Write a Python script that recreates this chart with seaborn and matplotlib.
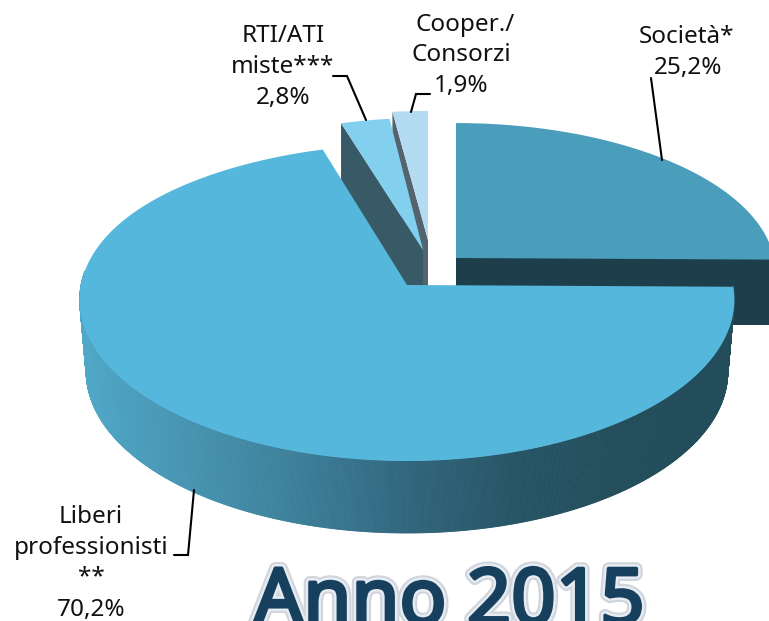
import numpy as np
import matplotlib
matplotlib.use("Agg")
import matplotlib.pyplot as plt
import matplotlib.patheffects as pe
from matplotlib.collections import PolyCollection
import seaborn as sns

# ---- data ----
categories = ["Società*", "Liberi professionisti**", "RTI/ATI miste***", "Cooper./Consorzi"]
shares = [25.2, 70.2, 2.8, 1.9]
share_labels = ["25,2%", "70,2%", "2,8%", "1,9%"]
title = "Anno 2015"

# ---- projection and styling ----
F, G, D = 3586.0, 1760.0, 11.0
apex = {0: (456, 258), 1: (407, 285), 2: (423, 250), 3: (428, 240)}
scale = {0: (0.975, 0.92), 1: (1.0, 1.0), 2: (0.94, 0.90), 3: (1.0, 0.88)}
far_squash = {0: 0.0, 1: 0.04, 2: 0.0, 3: 0.0}
top_col = ["#4a9dbb", "#55b7dc", "#82cfee", "#b3dcf3"]
side_col = ["#1d3f4c", None, "#385a67", "#53646e"]
depth = [67, 72, 72, 72]
grad_stops = ["#50a8c7", "#4693b0", "#3c7f99", "#31667e", "#265565", "#234d5b", "#234d5b"]
FONT = ["Noto Sans", "DejaVu Sans"]


def project(i, theta):
    """Perspective view of a point on the rim of slice i (theta in degrees)."""
    t = np.radians(theta)
    X, Y = np.cos(t), np.sin(t)
    sx, sy = scale[i]
    up = np.clip(Y, 0, 1)
    k = far_squash[i]
    x = apex[i][0] + sx * (1 - k * up ** 4) * F * X / (D + Y)
    y = apex[i][1] - sy * (1 - k * up) * G * Y / (D + Y)
    return np.column_stack([x, y])


sns.set_theme(style="white")
fig = plt.figure(figsize=(7.69, 6.21), dpi=100, facecolor="white")
ax = fig.add_axes([0, 0, 1, 1])
ax.set_xlim(0, 769)
ax.set_ylim(621, 0)
ax.axis("off")

# slice limits, clockwise from twelve o'clock
edges = 90 - np.cumsum([0] + shares) * 360 / sum(shares)
rims = {i: project(i, np.linspace(edges[i], edges[i + 1], 400)) for i in range(4)}


def rim_polygon(i):
    return np.vstack([[apex[i]], rims[i]])


def side_polygon(i, a, b):
    pa, pb = np.array(a, float), np.array(b, float)
    d = np.array([0, depth[i]])
    return np.array([pa, pb, pb + d, pa + d])


# Cooper., RTI, Società: cut faces, then tops
z = 1
for i in [3, 2]:
    ax.fill(*side_polygon(i, rims[i][0], apex[i]).T, color=side_col[i], lw=0, zorder=z)
    ax.fill(*rim_polygon(i).T, color=top_col[i], lw=0, zorder=z + 1)
    z += 2
ax.fill(*side_polygon(0, apex[0], project(0, np.array([0.0]))[0]).T,
        color=side_col[0], lw=0, zorder=z)
ax.fill(*rim_polygon(0).T, color=top_col[0], lw=0, zorder=z + 1)
z += 2

# Main slice: curved outer wall shaded by strips; the base rim is slightly narrower
th = np.linspace(0, -185, 600)
wall = project(1, th)
base = wall.copy()
base[:, 0] = apex[1][0] + 0.98 * (wall[:, 0] - apex[1][0])
base[:, 1] = base[:, 1] + depth[1]
n_col = 653
palette = sns.blend_palette(grad_stops, n_colors=n_col)
strips, colours = [], []
for j in range(len(wall) - 1):
    strips.append([wall[j], wall[j + 1], base[j + 1], base[j]])
    idx = int(np.clip(0.5 * (wall[j, 0] + wall[j + 1, 0]) - 80, 0, n_col - 1))
    colours.append(palette[idx])
ax.add_collection(PolyCollection(strips, facecolors=colours, edgecolors=colours,
                                 linewidths=0.6, zorder=z))
ax.fill(*rim_polygon(1).T, color=top_col[1], lw=0, zorder=z + 1)
z += 2

# Leader lines
leaders = [
    ([651, 662], [78, 160]),
    ([333, 347, 366], [76, 76, 120]),
    ([430, 416, 411], [94, 94, 112]),
    ([174, 188, 194], [555, 555, 490]),
]
for lx, ly in leaders:
    ax.plot(lx, ly, color="black", lw=1.5, solid_joinstyle="miter", zorder=z)

# Labels
label_kw = dict(ha="center", va="center", color="#111111", fontsize=17.5,
                family=FONT, zorder=z, linespacing=1.1)
ax.text(687, 37, "Società*", **label_kw)
ax.text(688, 68, share_labels[0], **label_kw)
ax.text(283, 36, "RTI/ATI", **label_kw)
ax.text(283, 67, "miste***", **label_kw)
ax.text(283, 98, share_labels[2], **label_kw)
ax.text(465, 25, "Cooper./", **label_kw)
ax.text(461, 55, "Consorzi", **label_kw)
ax.text(461, 86, share_labels[3], **label_kw)
ax.text(91, 517, "Liberi", **label_kw)
ax.text(91, 548, "professionisti", **label_kw)
ax.text(91, 577, "**", **label_kw)
ax.text(91, 610, share_labels[1], **label_kw)

# Title
ax.text(449, 624, title, ha="center", va="baseline", color="#17405f", fontsize=56,
        fontweight="bold", family=FONT, zorder=z,
        path_effects=[pe.Stroke(linewidth=9, foreground="#cfd5db"),
                      pe.Stroke(linewidth=6, foreground="#e6ecf2"),
                      pe.Stroke(linewidth=2.5, foreground="#17405f"),
                      pe.Normal()])

fig.savefig("out.png", dpi=100, facecolor="white")
